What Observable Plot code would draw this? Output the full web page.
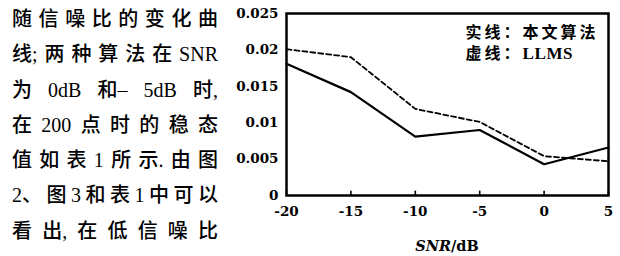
<!DOCTYPE html>
<html><head><meta charset="utf-8">
<script src="https://cdn.jsdelivr.net/npm/d3@7"></script>
<script src="https://cdn.jsdelivr.net/npm/@observablehq/plot@0.6"></script>
<style>
html,body{margin:0;padding:0;background:#fff;}
#wrap{position:relative;width:620px;height:256px;overflow:hidden;}
#para{position:absolute;left:12px;top:2px;width:206px;font-family:'Liberation Serif','Noto Sans CJK SC',serif;font-size:20px;line-height:35.3px;color:#000;font-weight:500;z-index:2;}
#para div{display:flex;justify-content:space-between;white-space:nowrap;}
#chart{position:absolute;left:0;top:0;}
</style></head>
<body>
<div id="wrap">
  <div id="para"></div>
  <div id="chart"></div>
</div>
<script>
// ---- data ----
const paragraphLines = [
  "随信噪比的变化曲",
  "线; 两种算法在 SNR",
  "为 0dB 和– 5dB 时,",
  "在 200 点时的稳态",
  "值如表 1 所示. 由图",
  "2、图3 和表1 中可以",
  "看出, 在低信噪比"
];
const snr = [-20, -15, -10, -5, 0, 5];
const proposed = [0.0181, 0.0142, 0.0081, 0.0090, 0.0043, 0.0066];
const llms = [0.0201, 0.0190, 0.0119, 0.0101, 0.0054, 0.0047];
const xTicks = [-20, -15, -10, -5, 0, 5];
const xTickLabels = ["-20", "-15", "-10", "-5", "0", "5"];
const yTicks = [0, 0.005, 0.01, 0.015, 0.02, 0.025];
const yTickLabels = ["0", "0.005", "0.01", "0.015", "0.02", "0.025"];
const legendLines = ["实线：本文算法", "虚线：LLMS"];
const xLabelItalic = "SNR";
const xLabelRest = "/dB";

// ---- chart ----
const rowsA = snr.map((s, i) => ({snr: s, v: proposed[i]}));
const rowsB = snr.map((s, i) => ({snr: s, v: llms[i]}));
const tickFont = "'DejaVu Serif', serif";

const plot = Plot.plot({
  width: 620, height: 256,
  marginLeft: 286, marginRight: 12, marginTop: 13, marginBottom: 61,
  style: {background: "transparent", color: "#000", fontFamily: tickFont},
  x: {domain: [-20, 5], label: null},
  y: {domain: [0, 0.025], label: null},
  marks: [
    Plot.line(rowsB, {x: "snr", y: "v", stroke: "#000", strokeWidth: 1.8, strokeDasharray: "5,3"}),
    Plot.line(rowsA, {x: "snr", y: "v", stroke: "#000", strokeWidth: 2.2}),
    Plot.ruleX(xTicks, {x: d => d, y1: 0, y2: 0.0006, stroke: "#000", strokeWidth: 1.6}),
    Plot.axisY({ticks: yTicks, tickSize: 0, tickPadding: 8, label: null,
      tickFormat: d => yTickLabels[yTicks.indexOf(d)],
      fontSize: 13.5, fontWeight: "bold", fontFamily: tickFont}),
    Plot.axisX({ticks: xTicks, tickSize: 0, tickPadding: 11, label: null,
      tickFormat: d => xTickLabels[xTicks.indexOf(d)],
      fontSize: 13.5, fontWeight: "bold", fontFamily: tickFont}),
    Plot.text([legendLines.join("\n")], {frameAnchor: "top-left", text: d => d, textAnchor: "start",
      lineAnchor: "top", lineHeight: 1.28, dx: 179, dy: 10,
      fontSize: 16, fontWeight: "bold", fontFamily: "'Liberation Serif','Noto Sans CJK SC'", fill: "#000"}),
    Plot.frame({stroke: "#000", strokeWidth: 2.5})
  ]
});

// legend: widen the CJK characters, keep the Latin word compact
const legendText = d3.select(plot).selectAll("text")
  .filter(function() { return this.textContent.includes(legendLines[0]); });
legendText.style("letter-spacing", "3px");
legendText.selectAll("tspan").each(function() {
  const t = d3.select(this), s = t.text();
  const m = s.match(/^(.*：)([A-Za-z].*)$/);
  if (m) {
    t.text("");
    t.append("tspan").text(m[1]);
    t.append("tspan").style("letter-spacing", "0.6px").style("font-size", "17px").text(m[2]);
  }
});

const sx = plot.scale("x"), sy = plot.scale("y");
const cx = (sx.range[0] + sx.range[1]) / 2;
const lab = d3.select(plot).append("text")
  .attr("x", cx).attr("y", sy.range[0] + 56)
  .attr("text-anchor", "middle")
  .attr("font-family", tickFont).attr("font-weight", "bold").attr("font-size", 14.5).attr("fill", "#000");
lab.append("tspan").attr("font-style", "italic").text(xLabelItalic);
lab.append("tspan").text(xLabelRest);

document.getElementById("chart").appendChild(plot);

// ---- paragraph: CJK chars spaced evenly, Latin runs kept together ----
const isCJK = ch => /[\u3400-\u9fff\uf900-\ufaff]/.test(ch);
const isPunct = ch => /[,.;:、，。；：–]/.test(ch);
function tokenize(line) {
  const toks = [];
  line.split(" ").filter(w => w.length).forEach(word => {
    let cur = "";
    for (const ch of word) {
      if (isPunct(ch)) { if (cur) { cur += ch; } else if (toks.length) { toks[toks.length - 1] += ch; } else { cur = ch; } continue; }
      if (isCJK(ch)) { if (cur) toks.push(cur); cur = ""; toks.push(ch); continue; }
      if (cur && isCJK(cur[cur.length - 1])) { toks.push(cur); cur = ""; }
      cur += ch;
    }
    if (cur) toks.push(cur);
  });
  return toks;
}
const para = document.getElementById("para");
paragraphLines.forEach(t => {
  const d = document.createElement("div");
  tokenize(t).forEach(tok => { const s = document.createElement("span"); s.textContent = tok; d.appendChild(s); });
  para.appendChild(d);
});
</script>
</body></html>
